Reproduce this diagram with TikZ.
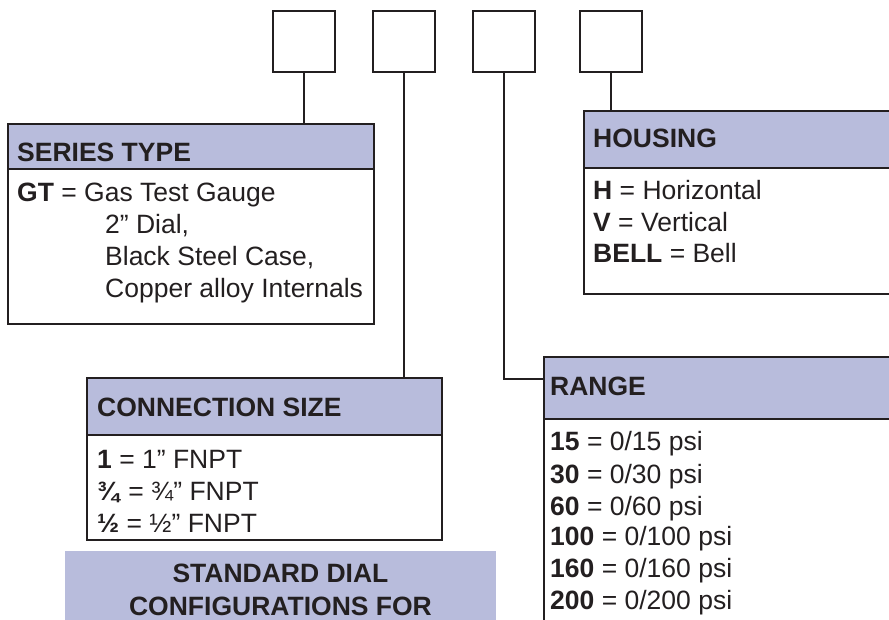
\documentclass[tikz,border=0pt]{standalone}
\usepackage{fontspec}
\setmainfont{Liberation Sans}
\definecolor{hdr}{HTML}{B8BCDC}
\definecolor{ink}{HTML}{231F20}
\begin{document}
\begin{tikzpicture}[x=1pt,y=-1pt,
  codebox/.style={draw=ink, line width=2pt, minimum width=62pt, minimum height=61pt, inner sep=0pt},
  hdrbox/.style={draw=ink, fill=hdr, line width=2pt, inner sep=0pt, anchor=north west},
  bodybox/.style={draw=ink, line width=2pt, inner sep=0pt, anchor=north west},
  conn/.style={draw=ink, line width=2pt},
  txt/.style={anchor=base west, inner sep=0pt, text=ink, font=\fontsize{26.5}{31}\selectfont},
  htxt/.style={anchor=base west, inner sep=0pt, text=ink, font=\fontsize{26.5}{31}\selectfont\bfseries},
  ctxt/.style={anchor=base, inner sep=0pt, text=ink, font=\fontsize{26.5}{31}\selectfont\bfseries}]
\useasboundingbox (0,0) rectangle (889,620);
\clip (0,0) rectangle (889,620);

% code boxes
\node[codebox] (c1) at (304,41.5) {};
\node[codebox] (c2) at (404,41.5) {};
\node[codebox] (c3) at (504,41.5) {};
\node[codebox] (c4) at (611,41.5) {};

% SERIES TYPE
\node[bodybox, minimum width=366pt, minimum height=155pt] (stb) at (7,168) {};
\node[hdrbox, minimum width=366pt, minimum height=45pt] (sth) at (7,123) {};
\node[htxt] (stt) at (17,162) {SERIES TYPE};
\node[txt] (st1) at (17,202) {\textbf{GT} = Gas Test Gauge};
\node[txt] (st2) at (105,234) {2” Dial,};
\node[txt] (st3) at (105,266) {Black Steel Case,};
\node[txt] (st4) at (105,298) {Copper alloy Internals};

% HOUSING
\node[bodybox, minimum width=320pt, minimum height=126pt] (hob) at (583,167) {};
\node[hdrbox, minimum width=320pt, minimum height=57pt] (hoh) at (583,110) {};
\node[htxt] (hot) at (593,148) {HOUSING};
\node[txt] (ho1) at (593,200) {\textbf{H} = Horizontal};
\node[txt] (ho2) at (593,232) {\textbf{V} = Vertical};
\node[txt] (ho3) at (593,263) {\textbf{BELL} = Bell};

% CONNECTION SIZE
\node[bodybox, minimum width=355pt, minimum height=105pt] (csb) at (86,434) {};
\node[hdrbox, minimum width=355pt, minimum height=57pt] (csh) at (86,377) {};
\node[htxt] (cst) at (97,416) {CONNECTION SIZE};
\node[txt] (cs1) at (97,468) {\textbf{1} = 1” FNPT};
\node[txt] (cs2) at (97,500) {\textbf{¾} = ¾” FNPT};
\node[txt] (cs3) at (97,532) {\textbf{½} = ½” FNPT};

% RANGE
\node[bodybox, minimum width=360pt, minimum height=220pt] (rab) at (543,418) {};
\node[hdrbox, minimum width=360pt, minimum height=62pt] (rah) at (543,356) {};
\node[htxt] (rat) at (550,395) {RANGE};
\node[txt] (ra1) at (550,450) {\textbf{15} = 0/15 psi};
\node[txt] (ra2) at (550,483) {\textbf{30} = 0/30 psi};
\node[txt] (ra3) at (550,515) {\textbf{60} = 0/60 psi};
\node[txt] (ra4) at (550,545) {\textbf{100} = 0/100 psi};
\node[txt] (ra5) at (550,577) {\textbf{160} = 0/160 psi};
\node[txt] (ra6) at (550,609) {\textbf{200} = 0/200 psi};

% STANDARD DIAL banner
\node[fill=hdr, inner sep=0pt, anchor=north west, minimum width=431pt, minimum height=80pt] (sdb) at (65,551) {};
\node[ctxt] (sd1) at (280.5,582) {STANDARD DIAL};
\node[ctxt] (sd2) at (280.5,615) {CONFIGURATIONS FOR};

% connectors
\draw[conn] (c1.south) -- (c1.south |- sth.north);
\draw[conn] (c2.south) -- (c2.south |- csh.north);
\draw[conn] (c3.south) |- ([yshift=9pt]rah.west);
\draw[conn] (c4.south) -- (c4.south |- hoh.north);
\end{tikzpicture}
\end{document}
